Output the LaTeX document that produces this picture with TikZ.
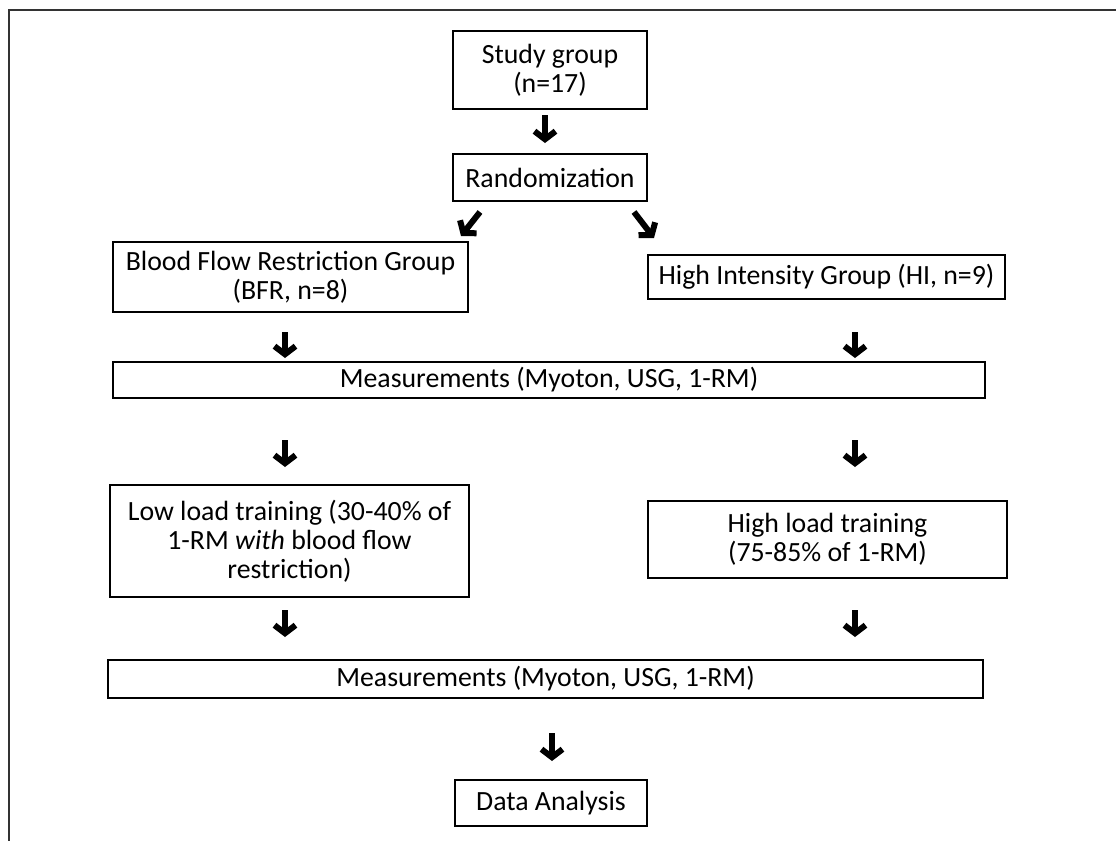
\documentclass[tikz,border=0pt]{standalone}
\usepackage{fontspec}
\setmainfont{Carlito}
\usetikzlibrary{arrows.meta}
\begin{document}
\begin{tikzpicture}[x=0.5pt,y=-0.5pt,
  box/.style={draw=black,line width=0.8pt,rectangle,inner sep=0pt,align=center,font=\fontsize{13.9}{14.5}\selectfont},
  flowarrow/.style={line width=3pt,-{Straight Barb[length=4pt,width=10.5pt,line width=3pt]}}]
\useasboundingbox (0,0) rectangle (1116,841);
\fill[white] (0,0) rectangle (1116,841);
% frame
\draw[line width=0.8pt,black!80] (9,841) -- (9,10) -- (1116,10);
% nodes
\node[box,minimum width=97pt,minimum height=39pt] (study) at (550,70) {Study group\\(n=17)};
\node[box,minimum width=97pt,minimum height=23.5pt] (rand) at (550,177.5) {Randomization};
\node[box,minimum width=177.5pt,minimum height=35pt] (bfr) at (290.5,277) {Blood Flow Restriction Group\\(BFR, n=8)};
\node[box,minimum width=178.5pt,minimum height=22pt] (hi) at (826.5,277) {High Intensity Group (HI, n=9)};
\node[box,minimum width=436pt,minimum height=18pt] (meas1) at (549,380) {Measurements (Myoton, USG, 1-RM)};
\node[box,minimum width=179.5pt,minimum height=56pt] (low) at (289.5,541) {Low load training (30-40\% of\\1-RM \textit{with} blood flow\\restriction)};
\node[box,minimum width=179.5pt,minimum height=38.5pt] (high) at (827.5,539.5) {High load training\\(75-85\% of 1-RM)};
\node[box,minimum width=437.5pt,minimum height=19pt] (meas2) at (545.5,679) {Measurements (Myoton, USG, 1-RM)};
\node[box,minimum width=96pt,minimum height=23pt] (data) at (551,803) {Data Analysis};
% arrow end points
\coordinate (a1s) at (545,115); \coordinate (a1e) at (545,143);
\coordinate (a2s) at (480,212); \coordinate (a2e) at (461,236);
\coordinate (a3s) at (634,212); \coordinate (a3e) at (654,238);
\coordinate (a4s) at (285,332); \coordinate (a4e) at (285,358);
\coordinate (a5s) at (855,332); \coordinate (a5e) at (855,358);
\coordinate (a6s) at (285,440); \coordinate (a6e) at (285,467);
\coordinate (a7s) at (855,440); \coordinate (a7e) at (855,467);
\coordinate (a8s) at (285,610); \coordinate (a8e) at (285,637);
\coordinate (a9s) at (855,610); \coordinate (a9e) at (855,637);
\coordinate (a10s) at (552,733); \coordinate (a10e) at (552,761);
\foreach \i in {1,...,10} \draw[flowarrow] (a\i s) -- (a\i e);
\end{tikzpicture}
\end{document}
